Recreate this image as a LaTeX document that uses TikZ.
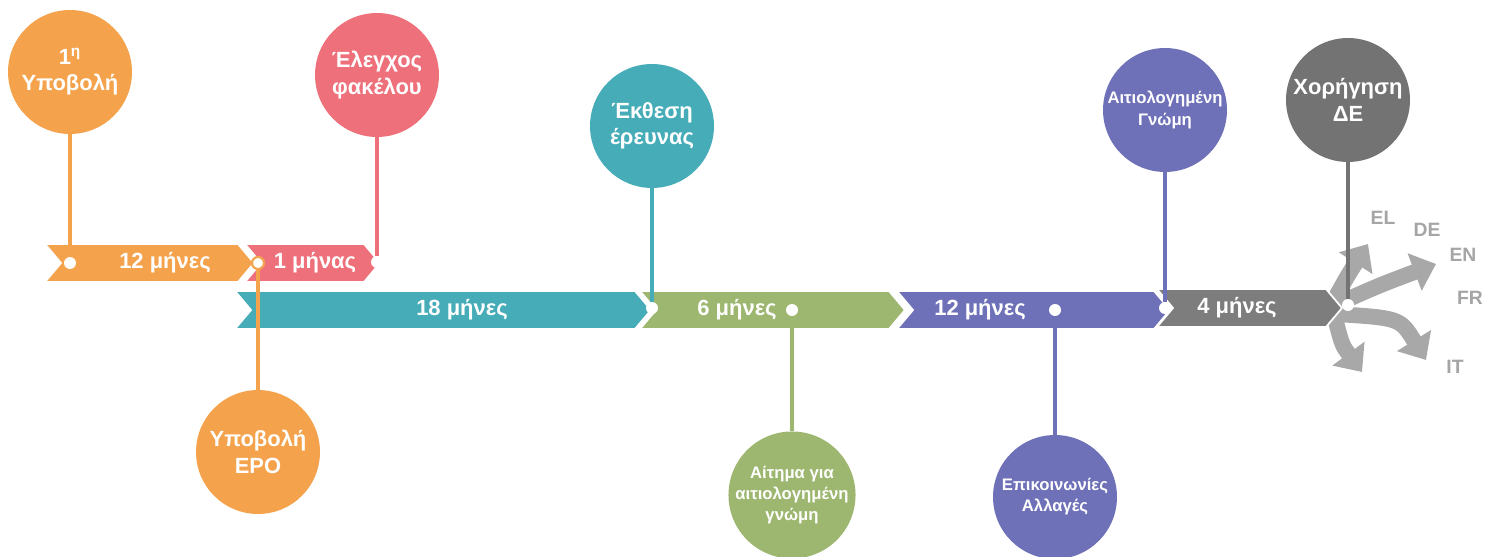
\documentclass[tikz,border=0pt]{standalone}
\usepackage{fontspec}
\setmainfont{Liberation Sans}
\usetikzlibrary{arrows.meta}
\definecolor{sorange}{RGB}{244,163,76}
\definecolor{spink}{RGB}{238,112,122}
\definecolor{steal}{RGB}{70,172,184}
\definecolor{sgreen}{RGB}{158,183,112}
\definecolor{spurple}{RGB}{111,113,184}
\definecolor{sgrey}{RGB}{125,125,125}
\definecolor{sdark}{RGB}{115,115,115}
\definecolor{fangrey}{RGB}{168,168,168}
\definecolor{slabel}{RGB}{165,165,165}

\begin{document}
\begin{tikzpicture}[
    x=0.02cm, y=-0.02cm,
    every node/.append style = {font=\fontsize{12.5}{15}\selectfont\bfseries,
      text=white, align=center},
    bubble/.style = {circle, fill=#1, minimum size=2.48cm, inner sep=0pt},
    small/.style = {font=\fontsize{9.5}{12}\selectfont\bfseries},
    stem/.style = {draw=#1, line width=2pt},
    dot/.style = {circle, fill=white, minimum size=0.24cm, inner sep=0pt},
    fan/.style = {draw=fangrey, line width=9pt,
      -{Triangle[width=22pt, length=13pt]}},
    lang/.style = {text=slabel, font=\fontsize{11}{13}\selectfont\bfseries}
  ]
  \useasboundingbox (0,0) rectangle (1498,557);
  % language arrows
  \draw[fan] (1333,302) .. controls (1348,275) .. (1368,244);
  \draw[fan] (1335,305) .. controls (1380,285) .. (1436,264);
  \draw[fan] (1335,314) .. controls (1400,318) .. (1426,360);
  \draw[fan] (1335,318) .. controls (1342,345) .. (1362,372);
  % time bands
  \foreach \xa/\xb/\y/\col/\tx/\txt/\nm in {
      45/254/263/sorange/165/12 μήνες/t1,
      245/380/263/spink/315/1 μήνας/t2,
      235/651/310/steal/462/18 μήνες/t3,
      640/905/310/sgreen/737/6 μήνες/t4,
      897/1170/310/spurple/980/12 μήνες/t5,
      1157/1342/308/sgrey/1237/4 μήνες/t6} {
    \filldraw[fill=\col, draw=white, line width=1pt]
      (\xa,\y-19) -- (\xb-16,\y-19) -- (\xb,\y) -- (\xb-16,\y+19)
      -- (\xa,\y+19) -- (\xa+16,\y) -- cycle;
    \node (\nm) at (\tx,\y) {\txt};
  }
  % milestones
  \node[bubble=sorange] (c1) at (70,72) {1\textsuperscript{η}\\Υποβολή};
  \node[bubble=spink] (c2) at (377,75) {Έλεγχος\\φακέλου};
  \node[bubble=sorange] (c3) at (258,452) {Υποβολή\\ΕΡΟ};
  \node[bubble=steal] (c4) at (652,126) {Έκθεση\\έρευνας};
  \node[bubble=sgreen, small] (c5) at (792,495)
    {Αίτημα για\\αιτιολογημένη\\γνώμη};
  \node[bubble=spurple, small] (c6) at (1055,497) {Επικοινωνίες\\Αλλαγές};
  \node[bubble=spurple, small] (c7) at (1165,110) {Αιτιολογημένη\\Γνώμη};
  \node[bubble=sdark] (c8) at (1348,100) {Χορήγηση\\ΔΕ};
  \node[dot] (d1) at (70,263) {};
  \node[dot, draw=sorange, line width=1.2pt] (d2) at (258,263) {};
  \node[dot] (d3) at (377,262) {};
  \node[dot] (d4) at (652,308) {};
  \node[dot] (d5) at (792,310) {};
  \node[dot] (d6) at (1055,310) {};
  \node[dot] (d7) at (1165,308) {};
  \node[dot] (d8) at (1348,305) {};
  \draw[stem=sorange] (c1) -- (d1);
  \draw[stem=spink] (c2) -- (d3);
  \draw[stem=sorange] (c3) -- (d2);
  \draw[stem=steal] (c4) -- (d4);
  \draw[stem=sgreen] (c5) -- (d5);
  \draw[stem=spurple] (c6) -- (d6);
  \draw[stem=spurple] (c7) -- (d7);
  \draw[stem=sdark] (c8) -- (d8);
  % languages
  \foreach \nm/\x/\y in {EL/1383/218, DE/1427/230, EN/1463/255,
      FR/1470/298, IT/1455/367}
    \node[lang] (l\nm) at (\x,\y) {\nm};
\end{tikzpicture}
\end{document}
